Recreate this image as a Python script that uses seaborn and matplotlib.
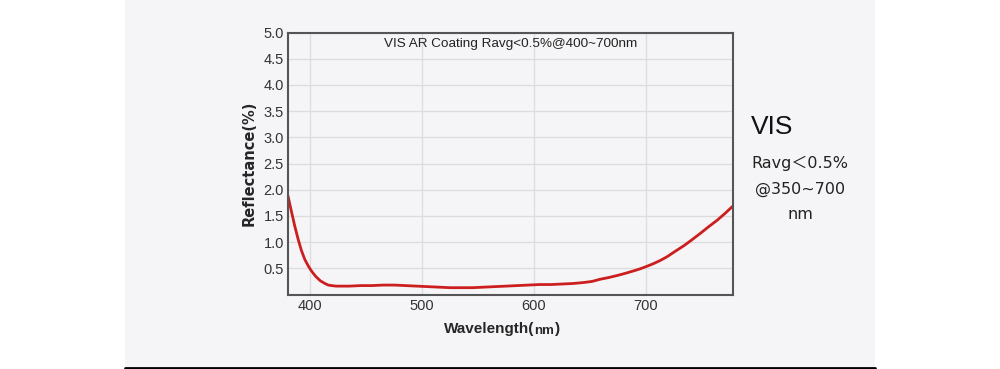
import matplotlib
matplotlib.use("Agg")
import matplotlib.pyplot as plt
import matplotlib.patches as mpatches
import pandas as pd
import seaborn as sns

# Reflectance curve
wavelength = [380, 383, 386, 389, 392, 395, 398, 400, 402, 405, 409, 413, 416,
              419, 423, 428, 435, 445, 455, 465, 475, 485, 495, 505, 515, 525,
              535, 545, 555, 565, 575, 585, 595, 605, 615, 625, 635, 645, 652,
              659, 666, 674, 681, 689, 695, 700, 707, 713, 719, 726, 734, 741,
              749, 756, 764, 771, 778]
reflectance = [1.88, 1.59, 1.31, 1.06, 0.84, 0.67, 0.55, 0.48, 0.42, 0.34, 0.26,
               0.21, 0.18, 0.17, 0.16, 0.16, 0.16, 0.17, 0.17, 0.18, 0.18, 0.17,
               0.16, 0.15, 0.14, 0.13, 0.13, 0.13, 0.14, 0.15, 0.16, 0.17, 0.18,
               0.19, 0.19, 0.20, 0.21, 0.23, 0.25, 0.29, 0.32, 0.36, 0.40, 0.45,
               0.49, 0.53, 0.59, 0.65, 0.72, 0.82, 0.93, 1.04, 1.17, 1.29, 1.42,
               1.55, 1.69]
y_ticks = [0.5, 1.0, 1.5, 2.0, 2.5, 3.0, 3.5, 4.0, 4.5, 5.0]
x_ticks = [400, 500, 600, 700]

df = pd.DataFrame({"wavelength": wavelength, "reflectance": reflectance})

sns.set_theme(style="whitegrid")
plt.rcParams["font.family"] = ["DejaVu Sans", "Noto Sans CJK SC"]
narrow = ["Liberation Sans Narrow", "Liberation Sans", "DejaVu Sans"]

panel_bg = "#f5f5f7"
fig = plt.figure(figsize=(10, 3.69), dpi=100)
fig.patch.set_facecolor("white")

# grey panel + black rule at the bottom
fig.patches.append(mpatches.Rectangle((0.125, 0.005), 0.75, 0.995,
                                      transform=fig.transFigure,
                                      facecolor=panel_bg, edgecolor="none",
                                      zorder=-10))
fig.lines.append(plt.Line2D([0.125, 0.875], [0.004, 0.004],
                            transform=fig.transFigure, color="black", lw=2))

ax = fig.add_axes([0.288, 1 - 294.5 / 369, 0.733 - 0.288, (294.5 - 32.5) / 369])
ax.set_facecolor(panel_bg)

sns.lineplot(data=df, x="wavelength", y="reflectance", ax=ax,
             color="#cc1e1e", lw=2)

ax.set_xlim(380, 778)
ax.set_ylim(0, 5)
ax.set_xticks(x_ticks)
ax.set_yticks(y_ticks)
ax.set_yticklabels([f"{v:.1f}" for v in y_ticks])
ax.tick_params(axis="both", labelsize=10.5, colors="#333333", length=0, pad=3)
for lbl in ax.get_xticklabels() + ax.get_yticklabels():
    lbl.set_family(narrow)
ax.grid(True, color="#dcdcdc", lw=0.9)
for side in ax.spines.values():
    side.set_color("#555555")
    side.set_linewidth(1.5)

ax.set_ylabel("Reflectance(%)", fontsize=10.5, fontweight="bold", labelpad=5)
ax.set_xlabel("")
fig.text(0.534, 0.108, "Wavelength(", fontsize=11, fontweight="bold",
         ha="right", va="center", family=narrow)
fig.text(0.534, 0.103, "nm", fontsize=9.5, fontweight="bold",
         ha="left", va="center", family=narrow)
fig.text(0.5545, 0.108, ")", fontsize=11, fontweight="bold",
         ha="left", va="center", family=narrow)

ax.text(0.5, 0.955, "VIS AR Coating Ravg<0.5%@400~700nm",
        transform=ax.transAxes, ha="center", va="center", fontsize=9.7,
        color="#222222", family=narrow)

# side note
fig.text(0.772, 1 - 127 / 369, "VIS", fontsize=19, ha="center", va="center",
         color="#111111", family=narrow)
fig.text(0.800, 1 - 163 / 369, "Ravg\uff1c0.5%", fontsize=11.5, ha="center",
         va="center", color="#222222",
         family=["DejaVu Sans", "Noto Sans CJK SC"])
fig.text(0.800, 1 - 189 / 369, "@350~700", fontsize=11.5, ha="center",
         va="center", color="#222222")
fig.text(0.800, 1 - 215 / 369, "nm", fontsize=11.5, ha="center",
         va="center", color="#222222")

fig.savefig("out.png", dpi=100, facecolor=fig.get_facecolor())
